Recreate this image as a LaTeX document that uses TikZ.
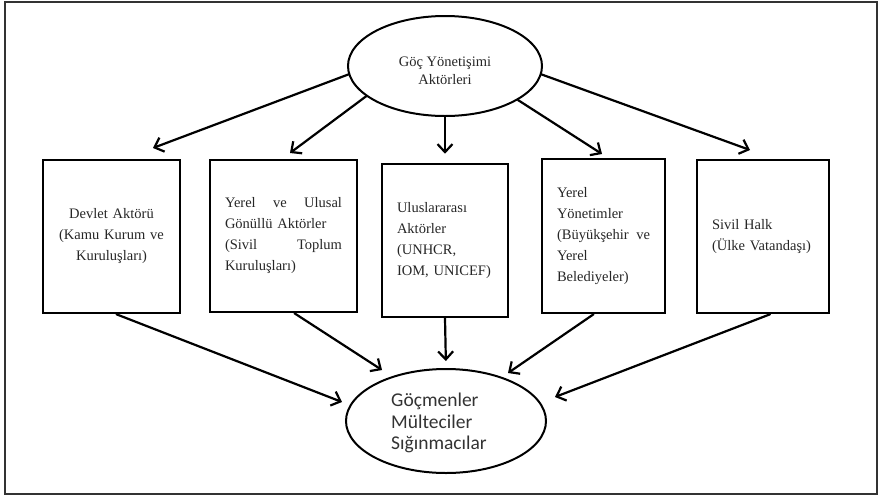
\documentclass[tikz,border=0pt]{standalone}
\usepackage{fontspec}
\usetikzlibrary{arrows.meta, shapes.geometric}

\newfontfamily\actorfont{Liberation Serif}
\newfontfamily\groupfont{Carlito}
\newcommand\spreadline[2]{\leavevmode\hbox to #1{#2}}

\begin{document}
\begin{tikzpicture}[%
        x = 1pt, y = -1pt,
        > = {Straight Barb[length = 8pt, width = 15pt]},
        line cap = round,
        actor/.style = {draw, rectangle, line width = 2.6pt, inner xsep = 15pt,
            font = \actorfont\fontsize{14.5}{21}\selectfont, text = black!85},
        link/.style = {->, line width = 2.2pt}
    ]

        \useasboundingbox (0, 0) rectangle (879, 496);

        % Outer frame.
        \draw[line width = 1.8pt, black!80] (5, 2) rectangle (877, 494);

        % Top and bottom ellipses, with their texts.
        \node (top) [draw, ellipse, line width = 2pt, inner sep = 0pt,
            minimum width = 194, minimum height = 100] at (445, 66) {};
        \node (toptext) [align = center, text = black!85,
            font = \actorfont\fontsize{14.5}{18}\selectfont]
            at (445, 71) {Göç Yönetişimi\\Aktörleri};
        \node (mig) [draw, ellipse, line width = 2pt, inner sep = 0pt,
            minimum width = 200, minimum height = 104] at (446, 421) {};
        \node (migtext) [anchor = west, inner sep = 0pt, align = left,
            text = black!80, font = \groupfont\fontsize{19.5}{21.5}\selectfont]
            at (391, 423) {Göçmenler\\Mülteciler\\Sığınmacılar};

        % The five actor boxes.
        \node (dev) [actor, minimum width = 137, minimum height = 153,
            text width = 107, align = center] at (111.5, 236.5)
            {Devlet Aktörü\\(Kamu Kurum ve\\Kuruluşları)};
        \node (ngo) [actor, minimum width = 147, minimum height = 152,
            text width = 117, align = left] at (283.5, 236)
            {\spreadline{117pt}{Yerel\hfill ve\hfill Ulusal}\\Gönüllü Aktörler\\
             \spreadline{117pt}{(Sivil\hfill Toplum}\\Kuruluşları)};
        \node (int) [actor, minimum width = 126, minimum height = 153,
            text width = 96, align = left] at (445, 240.5)
            {Uluslararası\\Aktörler\\(UNHCR,\\IOM, UNICEF)};
        \node (loc) [actor, minimum width = 123, minimum height = 154,
            text width = 93, align = left] at (603.5, 236)
            {Yerel\\Yönetimler\\\spreadline{93pt}{(Büyükşehir\hfill ve}\\Yerel\\Belediyeler)};
        \node (civ) [actor, minimum width = 132, minimum height = 153,
            text width = 102, align = left] at (763, 236.5)
            {Sivil Halk\\(Ülke Vatandaşı)};

        % Free ends of the arrows.
        \coordinate (t1) at (153, 148);
        \coordinate (t2) at (290, 153);
        \coordinate (t4) at (602, 154);
        \coordinate (t5) at (750, 150);
        \coordinate (m1) at (342, 402);
        \coordinate (m2) at (382, 370);
        \coordinate (m4) at (508, 373);
        \coordinate (m5) at (555, 397);

        % Arrows from the top ellipse to the boxes.
        \draw[link] (top.185) -- (t1);
        \draw[link] (top.201) -- (t2);
        \draw[link, shorten > = 9pt] (top.south) -- (int.north);
        \draw[link] (top.335) -- (t4);
        \draw[link] (top.355) -- (t5);

        % Arrows from the boxes to the bottom ellipse.
        \draw[link] ([xshift = 5pt]dev.south) -- (m1);
        \draw[link] ([xshift = 11pt]ngo.south) -- (m2);
        \draw[link, shorten > = 7pt] (int.south) -- (mig.north);
        \draw[link] ([xshift = -10pt]loc.south) -- (m4);
        \draw[link] ([xshift = 7pt]civ.south) -- (m5);
    \end{tikzpicture}
\end{document}
